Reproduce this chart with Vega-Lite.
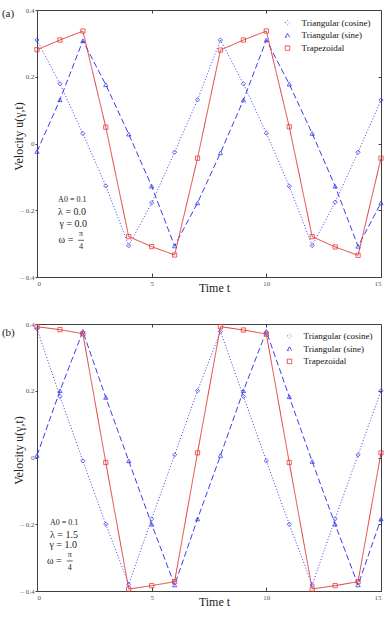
{
  "$schema": "https://vega.github.io/schema/vega-lite/v6.json",
  "background": "white",
  "padding": {"left": 1, "top": 5, "right": 0, "bottom": 0},
  "spacing": 47,
  "bounds": "flush",
  "datasets": {
    "a": [
      {"series": "Triangular (cosine)", "t": 0, "v": 0.31},
      {"series": "Triangular (cosine)", "t": 1, "v": 0.179},
      {"series": "Triangular (cosine)", "t": 2, "v": 0.03},
      {"series": "Triangular (cosine)", "t": 3, "v": -0.127},
      {"series": "Triangular (cosine)", "t": 4, "v": -0.306},
      {"series": "Triangular (cosine)", "t": 5, "v": -0.178},
      {"series": "Triangular (cosine)", "t": 6, "v": -0.026},
      {"series": "Triangular (cosine)", "t": 7, "v": 0.131},
      {"series": "Triangular (cosine)", "t": 8, "v": 0.31},
      {"series": "Triangular (cosine)", "t": 9, "v": 0.179},
      {"series": "Triangular (cosine)", "t": 10, "v": 0.031},
      {"series": "Triangular (cosine)", "t": 11, "v": -0.128},
      {"series": "Triangular (cosine)", "t": 12, "v": -0.306},
      {"series": "Triangular (cosine)", "t": 13, "v": -0.176},
      {"series": "Triangular (cosine)", "t": 14, "v": -0.026},
      {"series": "Triangular (cosine)", "t": 15, "v": 0.13},
      {"series": "Triangular (sine)", "t": 0, "v": -0.024},
      {"series": "Triangular (sine)", "t": 1, "v": 0.131},
      {"series": "Triangular (sine)", "t": 2, "v": 0.308},
      {"series": "Triangular (sine)", "t": 3, "v": 0.176},
      {"series": "Triangular (sine)", "t": 4, "v": 0.028},
      {"series": "Triangular (sine)", "t": 5, "v": -0.128},
      {"series": "Triangular (sine)", "t": 6, "v": -0.307},
      {"series": "Triangular (sine)", "t": 7, "v": -0.178},
      {"series": "Triangular (sine)", "t": 8, "v": -0.028},
      {"series": "Triangular (sine)", "t": 9, "v": 0.13},
      {"series": "Triangular (sine)", "t": 10, "v": 0.31},
      {"series": "Triangular (sine)", "t": 11, "v": 0.178},
      {"series": "Triangular (sine)", "t": 12, "v": 0.03},
      {"series": "Triangular (sine)", "t": 13, "v": -0.128},
      {"series": "Triangular (sine)", "t": 14, "v": -0.308},
      {"series": "Triangular (sine)", "t": 15, "v": -0.178},
      {"series": "Trapezoidal", "t": 0, "v": 0.281},
      {"series": "Trapezoidal", "t": 1, "v": 0.31},
      {"series": "Trapezoidal", "t": 2, "v": 0.337},
      {"series": "Trapezoidal", "t": 3, "v": 0.049},
      {"series": "Trapezoidal", "t": 4, "v": -0.279},
      {"series": "Trapezoidal", "t": 5, "v": -0.309},
      {"series": "Trapezoidal", "t": 6, "v": -0.334},
      {"series": "Trapezoidal", "t": 7, "v": -0.044},
      {"series": "Trapezoidal", "t": 8, "v": 0.28},
      {"series": "Trapezoidal", "t": 9, "v": 0.31},
      {"series": "Trapezoidal", "t": 10, "v": 0.337},
      {"series": "Trapezoidal", "t": 11, "v": 0.05},
      {"series": "Trapezoidal", "t": 12, "v": -0.279},
      {"series": "Trapezoidal", "t": 13, "v": -0.31},
      {"series": "Trapezoidal", "t": 14, "v": -0.335},
      {"series": "Trapezoidal", "t": 15, "v": -0.044}
    ],
    "b": [
      {"series": "Triangular (cosine)", "t": 0, "v": 0.386},
      {"series": "Triangular (cosine)", "t": 1, "v": 0.183},
      {"series": "Triangular (cosine)", "t": 2, "v": -0.01},
      {"series": "Triangular (cosine)", "t": 3, "v": -0.2},
      {"series": "Triangular (cosine)", "t": 4, "v": -0.38},
      {"series": "Triangular (cosine)", "t": 5, "v": -0.184},
      {"series": "Triangular (cosine)", "t": 6, "v": 0.008},
      {"series": "Triangular (cosine)", "t": 7, "v": 0.2},
      {"series": "Triangular (cosine)", "t": 8, "v": 0.378},
      {"series": "Triangular (cosine)", "t": 9, "v": 0.183},
      {"series": "Triangular (cosine)", "t": 10, "v": -0.01},
      {"series": "Triangular (cosine)", "t": 11, "v": -0.2},
      {"series": "Triangular (cosine)", "t": 12, "v": -0.382},
      {"series": "Triangular (cosine)", "t": 13, "v": -0.184},
      {"series": "Triangular (cosine)", "t": 14, "v": 0.008},
      {"series": "Triangular (cosine)", "t": 15, "v": 0.2},
      {"series": "Triangular (sine)", "t": 0, "v": 0.006},
      {"series": "Triangular (sine)", "t": 1, "v": 0.2},
      {"series": "Triangular (sine)", "t": 2, "v": 0.378},
      {"series": "Triangular (sine)", "t": 3, "v": 0.18},
      {"series": "Triangular (sine)", "t": 4, "v": -0.01},
      {"series": "Triangular (sine)", "t": 5, "v": -0.2},
      {"series": "Triangular (sine)", "t": 6, "v": -0.382},
      {"series": "Triangular (sine)", "t": 7, "v": -0.184},
      {"series": "Triangular (sine)", "t": 8, "v": 0.006},
      {"series": "Triangular (sine)", "t": 9, "v": 0.2},
      {"series": "Triangular (sine)", "t": 10, "v": 0.378},
      {"series": "Triangular (sine)", "t": 11, "v": 0.182},
      {"series": "Triangular (sine)", "t": 12, "v": -0.012},
      {"series": "Triangular (sine)", "t": 13, "v": -0.2},
      {"series": "Triangular (sine)", "t": 14, "v": -0.382},
      {"series": "Triangular (sine)", "t": 15, "v": -0.184},
      {"series": "Trapezoidal", "t": 0, "v": 0.392},
      {"series": "Trapezoidal", "t": 1, "v": 0.383},
      {"series": "Trapezoidal", "t": 2, "v": 0.371},
      {"series": "Trapezoidal", "t": 3, "v": -0.015},
      {"series": "Trapezoidal", "t": 4, "v": -0.394},
      {"series": "Trapezoidal", "t": 5, "v": -0.384},
      {"series": "Trapezoidal", "t": 6, "v": -0.372},
      {"series": "Trapezoidal", "t": 7, "v": 0.014},
      {"series": "Trapezoidal", "t": 8, "v": 0.392},
      {"series": "Trapezoidal", "t": 9, "v": 0.382},
      {"series": "Trapezoidal", "t": 10, "v": 0.37},
      {"series": "Trapezoidal", "t": 11, "v": -0.015},
      {"series": "Trapezoidal", "t": 12, "v": -0.394},
      {"series": "Trapezoidal", "t": 13, "v": -0.384},
      {"series": "Trapezoidal", "t": 14, "v": -0.372},
      {"series": "Trapezoidal", "t": 15, "v": 0.014}
    ]
  },
  "resolve": {
    "scale": {"color": "independent", "strokeDash": "independent", "shape": "independent"},
    "legend": {"color": "independent"}
  },
  "vconcat": [
    {
      "data": {"name": "a"},
      "width": 344,
      "height": 267,
      "resolve": {"axis": {"x": "independent", "y": "independent"}},
      "layer": [
        {
          "mark": {"type": "line", "strokeWidth": 1},
          "encoding": {
            "x": {"field": "t", "type": "quantitative", "scale": {"domain": [0, 15], "nice": false},
                  "axis": {"values": [0, 5, 10, 15], "title": "Time t", "titleX": 177, "titleY": 10.5, "titleBaseline": "middle"}},
            "y": {"field": "v", "type": "quantitative", "scale": {"domain": [-0.4, 0.4], "nice": false},
                  "axis": {"values": [-0.4, -0.2, 0, 0.2, 0.4], "title": "Velocity u(γ,t)", "titleX": -19, "titleY": 126, "titleBaseline": "middle",
                           "labelExpr": "datum.value < 0 ? '– ' + format(-datum.value, '.1f') : datum.value === 0 ? '0' : format(datum.value, '.1f')"}},
            "color": {"field": "series", "type": "nominal",
                      "scale": {"domain": ["Triangular (cosine)", "Triangular (sine)", "Trapezoidal"], "range": ["#3c3cf0", "#3c3cf0", "#e53a3a"]},
                      "legend": {"orient": "none", "legendX": 246, "legendY": 8.2}},
            "strokeDash": {"field": "series", "type": "nominal",
                           "scale": {"domain": ["Triangular (cosine)", "Triangular (sine)", "Trapezoidal"], "range": [[1, 2], [6, 3], [1, 0]]},
                           "legend": null}
          }
        },
        {
          "mark": {"type": "point", "filled": false, "size": 18, "strokeWidth": 0.8, "opacity": 1},
          "encoding": {
            "x": {"field": "t", "type": "quantitative", "axis": {"orient": "top", "values": [5, 10], "title": null, "domain": false}},
            "y": {"field": "v", "type": "quantitative", "axis": {"orient": "right", "values": [-0.2, 0, 0.2], "title": null, "domain": false}},
            "color": {"field": "series", "type": "nominal"},
            "shape": {"field": "series", "type": "nominal",
                      "scale": {"domain": ["Triangular (cosine)", "Triangular (sine)", "Trapezoidal"], "range": ["diamond", "triangle-up", "square"]},
                      "legend": null}
          }
        },
        {
          "data": {"values": [{}]},
          "mark": {"type": "text", "align": "left", "baseline": "middle", "fontSize": 11},
          "encoding": {"x": {"datum": -1.53, "type": "quantitative", "axis": null}, "y": {"datum": 0.3885, "type": "quantitative", "axis": null}, "text": {"value": "(a)"}}
        },
        {
          "data": {"values": [{}]},
          "mark": {"type": "text", "align": "left", "baseline": "middle", "fontSize": 8},
          "encoding": {"x": {"datum": 0.92, "type": "quantitative", "axis": null}, "y": {"datum": -0.17, "type": "quantitative", "axis": null}, "text": {"value": "A0 =  0.1"}}
        },
        {
          "data": {"values": [{}]},
          "mark": {"type": "text", "align": "left", "baseline": "middle", "fontSize": 10},
          "encoding": {"x": {"datum": 0.92, "type": "quantitative", "axis": null}, "y": {"datum": -0.206, "type": "quantitative", "axis": null}, "text": {"value": "λ = 0.0"}}
        },
        {
          "data": {"values": [{}]},
          "mark": {"type": "text", "align": "left", "baseline": "middle", "fontSize": 10},
          "encoding": {"x": {"datum": 0.98, "type": "quantitative", "axis": null}, "y": {"datum": -0.24, "type": "quantitative", "axis": null}, "text": {"value": "γ = 0.0"}}
        },
        {
          "data": {"values": [{}]},
          "mark": {"type": "text", "align": "left", "baseline": "middle", "fontSize": 10},
          "encoding": {"x": {"datum": 0.94, "type": "quantitative", "axis": null}, "y": {"datum": -0.29, "type": "quantitative", "axis": null}, "text": {"value": "ω ="}}
        },
        {
          "data": {"values": [{}]},
          "mark": {"type": "text", "align": "center", "baseline": "middle", "fontSize": 8},
          "encoding": {"x": {"datum": 1.92, "type": "quantitative", "axis": null}, "y": {"datum": -0.272, "type": "quantitative", "axis": null}, "text": {"value": "π"}}
        },
        {
          "data": {"values": [{}]},
          "mark": {"type": "text", "align": "center", "baseline": "middle", "fontSize": 8},
          "encoding": {"x": {"datum": 1.92, "type": "quantitative", "axis": null}, "y": {"datum": -0.311, "type": "quantitative", "axis": null}, "text": {"value": "4"}}
        },
        {
          "data": {"values": [{}]},
          "mark": {"type": "rule", "color": "#222", "strokeWidth": 0.7},
          "encoding": {"x": {"datum": 1.79, "type": "quantitative", "axis": null}, "x2": {"datum": 2.05}, "y": {"datum": -0.29, "type": "quantitative", "axis": null}}
        }
      ]
    },
    {
      "data": {"name": "b"},
      "width": 344,
      "height": 267,
      "resolve": {"axis": {"x": "independent", "y": "independent"}},
      "layer": [
        {
          "mark": {"type": "line", "strokeWidth": 1},
          "encoding": {
            "x": {"field": "t", "type": "quantitative", "scale": {"domain": [0, 15], "nice": false},
                  "axis": {"values": [0, 5, 10, 15], "title": "Time t", "titleX": 177, "titleY": 10.5, "titleBaseline": "middle"}},
            "y": {"field": "v", "type": "quantitative", "scale": {"domain": [-0.4, 0.4], "nice": false},
                  "axis": {"values": [-0.4, -0.2, 0, 0.2, 0.4], "title": "Velocity u(γ,t)", "titleX": -19, "titleY": 126, "titleBaseline": "middle",
                           "labelExpr": "datum.value < 0 ? '– ' + format(-datum.value, '.1f') : datum.value === 0 ? '0' : format(datum.value, '.1f')"}},
            "color": {"field": "series", "type": "nominal",
                      "scale": {"domain": ["Triangular (cosine)", "Triangular (sine)", "Trapezoidal"], "range": ["#3c3cf0", "#3c3cf0", "#e53a3a"]},
                      "legend": {"orient": "none", "legendX": 248, "legendY": 7.5}},
            "strokeDash": {"field": "series", "type": "nominal",
                           "scale": {"domain": ["Triangular (cosine)", "Triangular (sine)", "Trapezoidal"], "range": [[1, 2], [6, 3], [1, 0]]},
                           "legend": null}
          }
        },
        {
          "mark": {"type": "point", "filled": false, "size": 18, "strokeWidth": 0.8, "opacity": 1},
          "encoding": {
            "x": {"field": "t", "type": "quantitative", "axis": {"orient": "top", "values": [5, 10], "title": null, "domain": false}},
            "y": {"field": "v", "type": "quantitative", "axis": {"orient": "right", "values": [-0.2, 0, 0.2], "title": null, "domain": false}},
            "color": {"field": "series", "type": "nominal"},
            "shape": {"field": "series", "type": "nominal",
                      "scale": {"domain": ["Triangular (cosine)", "Triangular (sine)", "Trapezoidal"], "range": ["diamond", "triangle-up", "square"]},
                      "legend": null}
          }
        },
        {
          "data": {"values": [{}]},
          "mark": {"type": "text", "align": "left", "baseline": "middle", "fontSize": 11},
          "encoding": {"x": {"datum": -1.53, "type": "quantitative", "axis": null}, "y": {"datum": 0.373, "type": "quantitative", "axis": null}, "text": {"value": "(b)"}}
        },
        {
          "data": {"values": [{}]},
          "mark": {"type": "text", "align": "left", "baseline": "middle", "fontSize": 8},
          "encoding": {"x": {"datum": 0.567, "type": "quantitative", "axis": null}, "y": {"datum": -0.195, "type": "quantitative", "axis": null}, "text": {"value": "A0 =  0.1"}}
        },
        {
          "data": {"values": [{}]},
          "mark": {"type": "text", "align": "left", "baseline": "middle", "fontSize": 10},
          "encoding": {"x": {"datum": 0.567, "type": "quantitative", "axis": null}, "y": {"datum": -0.231, "type": "quantitative", "axis": null}, "text": {"value": "λ = 1.5"}}
        },
        {
          "data": {"values": [{}]},
          "mark": {"type": "text", "align": "left", "baseline": "middle", "fontSize": 10},
          "encoding": {"x": {"datum": 0.54, "type": "quantitative", "axis": null}, "y": {"datum": -0.263, "type": "quantitative", "axis": null}, "text": {"value": "γ = 1.0"}}
        },
        {
          "data": {"values": [{}]},
          "mark": {"type": "text", "align": "left", "baseline": "middle", "fontSize": 10},
          "encoding": {"x": {"datum": 0.436, "type": "quantitative", "axis": null}, "y": {"datum": -0.31, "type": "quantitative", "axis": null}, "text": {"value": "ω ="}}
        },
        {
          "data": {"values": [{}]},
          "mark": {"type": "text", "align": "center", "baseline": "middle", "fontSize": 8},
          "encoding": {"x": {"datum": 1.43, "type": "quantitative", "axis": null}, "y": {"datum": -0.292, "type": "quantitative", "axis": null}, "text": {"value": "π"}}
        },
        {
          "data": {"values": [{}]},
          "mark": {"type": "text", "align": "center", "baseline": "middle", "fontSize": 8},
          "encoding": {"x": {"datum": 1.43, "type": "quantitative", "axis": null}, "y": {"datum": -0.331, "type": "quantitative", "axis": null}, "text": {"value": "4"}}
        },
        {
          "data": {"values": [{}]},
          "mark": {"type": "rule", "color": "#222", "strokeWidth": 0.7},
          "encoding": {"x": {"datum": 1.3, "type": "quantitative", "axis": null}, "x2": {"datum": 1.56}, "y": {"datum": -0.31, "type": "quantitative", "axis": null}}
        }
      ]
    }
  ],
  "config": {
    "font": "Liberation Serif",
    "view": {"stroke": "#404040", "strokeWidth": 1},
    "text": {"font": "Liberation Serif", "color": "#222"},
    "axis": {
      "grid": false,
      "domainColor": "#404040",
      "tickColor": "#404040",
      "labelColor": "#555555",
      "labelFont": "Liberation Serif",
      "labelFontSize": 7,
      "titleFont": "Liberation Serif",
      "titleFontSize": 12,
      "titleFontWeight": "normal",
      "titleColor": "#222222"
    },
    "axisBottom": {"tickSize": -4, "labelPadding": 6},
    "axisTop": {"tickSize": -3, "labels": false},
    "axisRight": {"tickSize": -3, "labels": false},
    "axisLeft": {"tickSize": 2, "labelPadding": 1},
    "legend": {
      "title": null,
      "padding": 0,
      "labelFont": "Liberation Serif",
      "labelFontSize": 9,
      "labelColor": "#111111",
      "symbolSize": 20,
      "symbolStrokeWidth": 0.9,
      "labelOffset": 9.5,
      "rowPadding": 2.7
    }
  }
}
